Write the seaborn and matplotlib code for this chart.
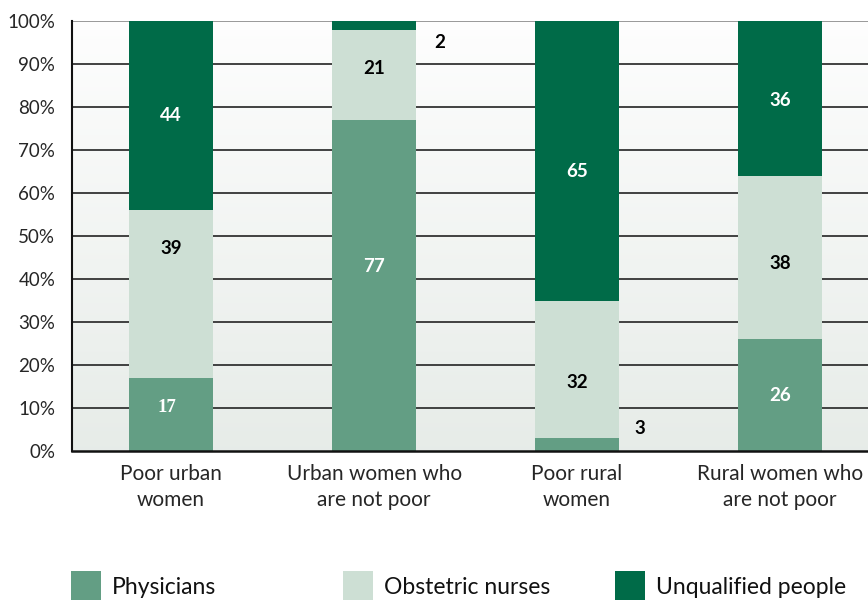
import numpy as np
import pandas as pd
import matplotlib
matplotlib.use("Agg")
import matplotlib.pyplot as plt
from matplotlib.patches import Rectangle
import seaborn as sns

# ---- data ----
categories = ["Poor urban\nwomen", "Urban women who\nare not poor",
              "Poor rural\nwomen", "Rural women who\nare not poor"]
series_names = ["Physicians", "Obstetric nurses", "Unqualified people"]
physicians = [17, 77, 3, 26]
nurses = [39, 21, 32, 38]
unqualified = [44, 2, 65, 36]
y_ticks = [0, 10, 20, 30, 40, 50, 60, 70, 80, 90, 100]

# ---- styles / positions ----
colors = ["#639e84", "#cddfd4", "#006b48"]
# label positions (y in % units, x offset in category units) and text colours
label_y = [[10, 47, 78], [43, 89, 95], [5.3, 16, 65], [12.8, 43.5, 81.6]]
label_dx = [[-0.02, 0, 0], [0, 0, 0.325], [0.31, 0, 0], [0, 0, 0]]
label_col = [["white", "black", "white"], ["white", "black", "black"],
             ["black", "black", "white"], ["white", "black", "white"]]

sns.set_style("white")
plt.rcParams["font.family"] = ["Lato", "DejaVu Sans"]

fig = plt.figure(figsize=(8.68, 6.0), dpi=100)
ax = fig.add_axes([72 / 868, 149 / 600, 796 / 868, 430 / 600])

df = pd.DataFrame({
    "cat": categories,
    "phys": physicians,
    "nurse": nurses,
    "unq": unqualified,
})
df["c1"] = df["phys"]
df["c2"] = df["phys"] + df["nurse"]
df["c3"] = df["c2"] + df["unq"]

# gradient background
grad = np.linspace(0, 1, 256).reshape(-1, 1)
top = np.array([0.995, 0.995, 0.995])
bot = np.array([0.905, 0.925, 0.910])
img = top + (bot - top) * grad[:, :, None] * np.ones((1, 1, 3))
ax.imshow(img, extent=[-0.6, 3.6, 0, 100], origin="upper", aspect="auto",
          zorder=0)

# gridlines
for t in y_ticks[1:-1]:
    ax.axhline(t, color="#333333", lw=1.3, zorder=1)
ax.axhline(100, color="#888888", lw=1.2, zorder=1)

order = categories
for col, c in zip(["c3", "c2", "c1"], colors[::-1]):
    sns.barplot(data=df, x="cat", y=col, order=order, color=c, width=0.415,
                saturation=1, ax=ax, zorder=2, linewidth=0, edgecolor="none")

# value labels
vals = np.array([physicians, nurses, unqualified]).T
for i in range(len(categories)):
    for j in range(3):
        v = vals[i, j]
        if i == 0 and j == 0:
            fam = ["Liberation Serif"]
        else:
            fam = ["Lato", "DejaVu Sans"]
        ax.text(i + label_dx[i][j], label_y[i][j], f"{v}", ha="center",
                va="center", fontsize=13.5, fontweight="bold",
                color=label_col[i][j], family=fam, zorder=3)

ax.set_xlim(-0.488, 3.433)
ax.set_ylim(0, 100)
ax.set_yticks(y_ticks)
ax.set_yticklabels([f"{t}%" for t in y_ticks], fontsize=13.5)
ax.tick_params(axis="y", length=0, pad=12)
ax.tick_params(axis="x", length=0, pad=9, labelsize=15)
for lab in ax.get_xticklabels():
    lab.set_linespacing(1.4)
ax.set_xlabel("")
ax.set_ylabel("")
for s in ["top", "right"]:
    ax.spines[s].set_visible(False)
ax.spines["left"].set_color("#111111")
ax.spines["left"].set_linewidth(1.5)
ax.spines["bottom"].set_color("#111111")
ax.spines["bottom"].set_linewidth(1.8)
ax.spines["left"].set_zorder(4)
ax.spines["bottom"].set_zorder(4)

# legend (manual, at bottom)
leg_x = [71, 343, 615]
for name, c, x0 in zip(series_names, colors, leg_x):
    fig.patches.append(Rectangle((x0 / 868, (600 - 601) / 600), 30 / 868, 30 / 600,
                                 transform=fig.transFigure, facecolor=c,
                                 edgecolor="none"))
    fig.text((x0 + 41) / 868, (600 - 587) / 600, name, fontsize=16.5,
             va="center", ha="left", color="#111111")

fig.savefig("out.png", dpi=100)
